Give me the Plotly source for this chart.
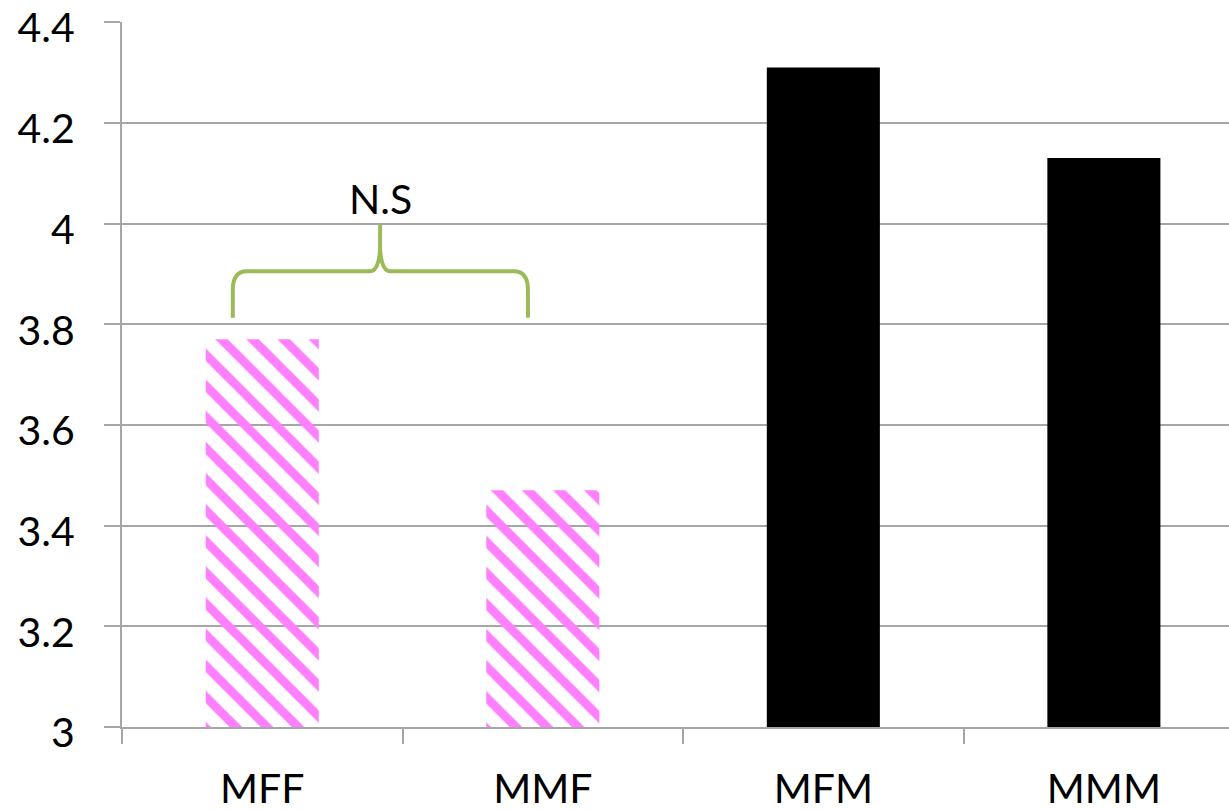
import plotly.graph_objects as go

categories = ["MFF", "MMF", "MFM", "MMM"]
values = [3.77, 3.47, 4.31, 4.13]
hatched = [True, True, False, False]
y_tickvals = [3.0, 3.2, 3.4, 3.6, 3.8, 4.0, 4.2, 4.4]
y_ticktext = ["3", "3.2", "3.4", "3.6", "3.8", "4", "4.2", "4.4"]
ns_label = "N.S"

PINK = "#FF80FF"
GREEN = "#9BBB59"
GRID = "#A6A6A6"
FONT = "Lato"

fig = go.Figure()
fig.add_trace(go.Bar(
    x=categories,
    y=values,
    base=0,
    marker=dict(
        color=[PINK if h else "black" for h in hatched],
        line=dict(width=0),
        pattern=dict(
            shape=["\\" if h else "" for h in hatched],
            bgcolor="white",
            size=22,
            solidity=0.4,
            fillmode="replace",
        ),
    ),
    hoverinfo="skip",
))

# curly brace (in data coordinates) spanning MFF and MMF
brace = (
    "M -0.105,3.813 L -0.105,3.868 "
    "Q -0.105,3.905 -0.055,3.905 "
    "L 0.384,3.905 "
    "Q 0.414,3.905 0.420,3.948 "
    "L 0.420,3.997 "
    "M 0.420,3.948 "
    "Q 0.426,3.905 0.456,3.905 "
    "L 0.897,3.905 "
    "Q 0.947,3.905 0.947,3.868 "
    "L 0.947,3.813"
)
fig.add_shape(type="path", path=brace, xref="x", yref="y",
              line=dict(color=GREEN, width=4))

fig.add_annotation(x=0.42, y=4.05, xref="x", yref="y", text=ns_label,
                   showarrow=False, font=dict(family=FONT, size=41, color="black"),
                   xanchor="center", yanchor="middle")

fig.update_layout(
    width=1229, height=810,
    margin=dict(l=122, r=0, t=22, b=83),
    paper_bgcolor="white", plot_bgcolor="white",
    showlegend=False,
    bargap=0.597,
    font=dict(family=FONT, size=41, color="black"),
    xaxis=dict(
        type="category",
        range=[-0.5, 3.446],
        showgrid=False,
        showline=True, linecolor=GRID, linewidth=2,
        ticks="outside", tickson="boundaries", ticklen=15, tickwidth=2, tickcolor=GRID,
        ticklabelstandoff=25,
        automargin=False,
        fixedrange=True,
    ),
    yaxis=dict(
        range=[3, 4.4002],
        tickvals=y_tickvals, ticktext=y_ticktext,
        showgrid=True, gridcolor=GRID, gridwidth=2,
        zeroline=False,
        showline=True, linecolor=GRID, linewidth=2,
        ticks="outside", ticklen=16, tickwidth=2, tickcolor=GRID,
        ticklabelstandoff=21,
        ticklabelshift=6,
        automargin=False,
        fixedrange=True,
    ),
)

fig.write_html(
    "out.html",
    config={"displayModeBar": False, "staticPlot": True},
    post_script="document.body.style.margin='0';document.body.style.overflow='hidden';",
)
